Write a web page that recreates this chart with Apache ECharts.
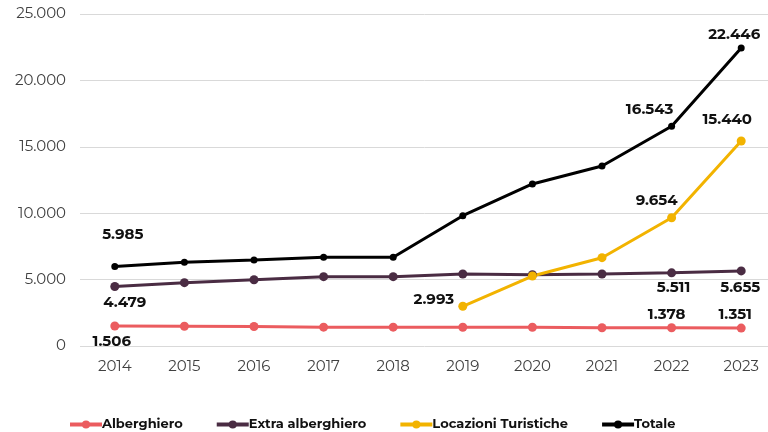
<!DOCTYPE html>
<html>
<head>
<meta charset="utf-8">
<script src="https://cdn.jsdelivr.net/npm/echarts@6/dist/echarts.min.js"></script>
<style>
  html, body { margin: 0; padding: 0; background: #ffffff; }
  #chart { width: 768px; height: 432px; }
</style>
</head>
<body>
<div id="chart"></div>
<script>
  var years = ['2014', '2015', '2016', '2017', '2018', '2019', '2020', '2021', '2022', '2023'];
  var alberghiero = [1506, 1490, 1470, 1420, 1420, 1410, 1410, 1370, 1378, 1351];
  var extraAlberghiero = [4479, 4770, 4990, 5220, 5220, 5420, 5370, 5420, 5511, 5655];
  var locazioni = [null, null, null, null, null, 2993, 5270, 6650, 9654, 15440];
  var totale = [5985, 6300, 6480, 6680, 6680, 9810, 12200, 13550, 16543, 22446];
  var yTicks = [0, 5000, 10000, 15000, 20000, 25000];

  function fmt (v) {
    return String(v).replace(/\B(?=(\d{3})+(?!\d))/g, '.');
  }

  var font = 'Montserrat, "DejaVu Sans", sans-serif';

  // which points carry a label, and where
  function withLabels (values, labelled) {
    return values.map(function (v, i) {
      var l = labelled[i];
      if (!l || v == null) return v;
      return {
        value: v,
        label: {
          show: true,
          position: 'inside',
          offset: l,
          formatter: fmt(v),
          color: '#111',
          fontWeight: 'bold',
          fontSize: 15,
          fontFamily: font
        }
      };
    });
  }

  var albLabels = { 0: [-3, 16], 8: [-5, -13], 9: [-6, -13] };
  var extraLabels = { 0: [10, 16], 8: [2, 15], 9: [-1, 17] };
  var locLabels = { 5: [-29, -7], 8: [-15, -17], 9: [-14, -21] };
  var totLabels = { 0: [8, -32], 8: [-22, -17], 9: [-7, -13] };

  function makeSeries (name, values, labels, color, size) {
    return {
      name: name,
      type: 'line',
      data: withLabels(values, labels),
      symbol: 'circle',
      symbolSize: size,
      showAllSymbol: true,
      lineStyle: { color: color, width: 3 },
      itemStyle: { color: color },
      emphasis: { disabled: true }
    };
  }

  var chart = echarts.init(document.getElementById('chart'));
  var option = {
    animation: false,
    grid: { left: 80, top: 14, width: 696, height: 332, outerBoundsMode: 'none', containLabel: false },
    legend: {
      top: 413,
      left: 63,
      itemGap: 32,
      itemWidth: 32,
      itemHeight: 10,
      lineStyle: { width: 4 },
      textStyle: { fontFamily: font, fontSize: 13, fontWeight: 'bold', color: '#111', padding: [0, 0, 0, -5] },
      data: ['Alberghiero', 'Extra alberghiero', 'Locazioni Turistiche', 'Totale']
    },
    xAxis: {
      type: 'category',
      data: years,
      axisLine: { show: false },
      axisTick: { show: false },
      axisLabel: { fontFamily: font, fontSize: 15, color: '#404040', margin: 13 }
    },
    yAxis: {
      type: 'value',
      min: yTicks[0],
      max: yTicks[yTicks.length - 1],
      interval: 5000,
      axisLabel: {
        fontFamily: font, fontSize: 15, color: '#404040', margin: 14,
        formatter: function (v) { return fmt(v); }
      },
      splitLine: { lineStyle: { color: '#d9d9d9', width: 1 } }
    },
    series: [
      makeSeries('Alberghiero', alberghiero, albLabels, '#eb5c5f', 9),
      makeSeries('Extra alberghiero', extraAlberghiero, extraLabels, '#4a2c43', 9),
      makeSeries('Locazioni Turistiche', locazioni, locLabels, '#f2b300', 9),
      makeSeries('Totale', totale, totLabels, '#000000', 7)
    ]
  };
  chart.setOption(option);
</script>
</body>
</html>
